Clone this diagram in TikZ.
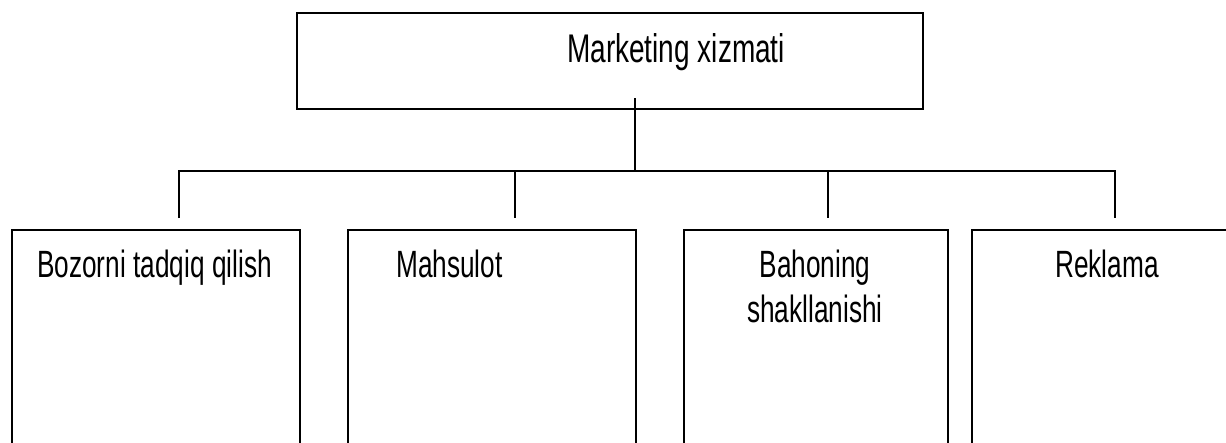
\documentclass[tikz,border=0pt]{standalone}
\usepackage{fontspec}
\newfontfamily\chartfont[FakeStretch=0.69]{Liberation Sans}
\newfontfamily\headfont[FakeStretch=0.70]{Liberation Sans}
\begin{document}
\begin{tikzpicture}[x=1pt,y=-1pt,
  frame/.style={draw=black, line width=1.5pt, rectangle, inner sep=0pt},
  link/.style={draw=black, line width=1.5pt},
  caption/.style={inner sep=0pt, font=\chartfont\fontsize{38}{45}\selectfont},
  headcaption/.style={inner sep=0pt, font=\headfont\fontsize{40}{45}\selectfont}]
  \useasboundingbox (0,0) rectangle (1226,442);
  \clip (0,0) rectangle (1226,442);

  % head unit
  \node[frame, minimum width=626pt, minimum height=96pt] (head) at (610,61) {};
  \node[headcaption, anchor=base west] (headtxt) at (567,62) {Marketing xizmati};

  % departments (their lower edges run past the sheet)
  \node[frame, minimum width=288pt, minimum height=240pt, anchor=north west] (dep1) at (11,229) {};
  \node[frame, minimum width=288pt, minimum height=240pt, anchor=north west] (dep2) at (347,229) {};
  \node[frame, minimum width=264pt, minimum height=240pt, anchor=north west] (dep3) at (683,229) {};
  \node[frame, minimum width=272pt, minimum height=240pt, anchor=north west] (dep4) at (971,229) {};

  \node[caption, anchor=base west] (txt1) at (37,277) {Bozorni tadqiq qilish};
  \node[caption, anchor=base west] (txt2) at (396,277) {Mahsulot};
  % base anchor of a two-line node sits on its last line
  \node[caption, anchor=base, align=center] (txt3) at (815,322) {Bahoning\\shakllanishi};
  \node[caption, anchor=base] (txt4) at (1107,277) {Reklama};

  % connector tree
  \coordinate (trunktop) at (635,98);
  \coordinate (hub) at (635,171);
  \coordinate (busL) at (179,171);
  \coordinate (busR) at (1115,171);
  \coordinate (bus2) at (515,171);
  \coordinate (bus3) at (828,171);
  \coordinate (tip1) at (179,218);
  \coordinate (tip2) at (515,218);
  \coordinate (tip3) at (828,218);
  \coordinate (tip4) at (1115,218);

  \draw[link] (trunktop) -- (hub);
  \draw[link] (tip1) -- (busL) -- (busR) -- (tip4);
  \draw[link] (bus2) -- (tip2);
  \draw[link] (bus3) -- (tip3);
\end{tikzpicture}
\end{document}
